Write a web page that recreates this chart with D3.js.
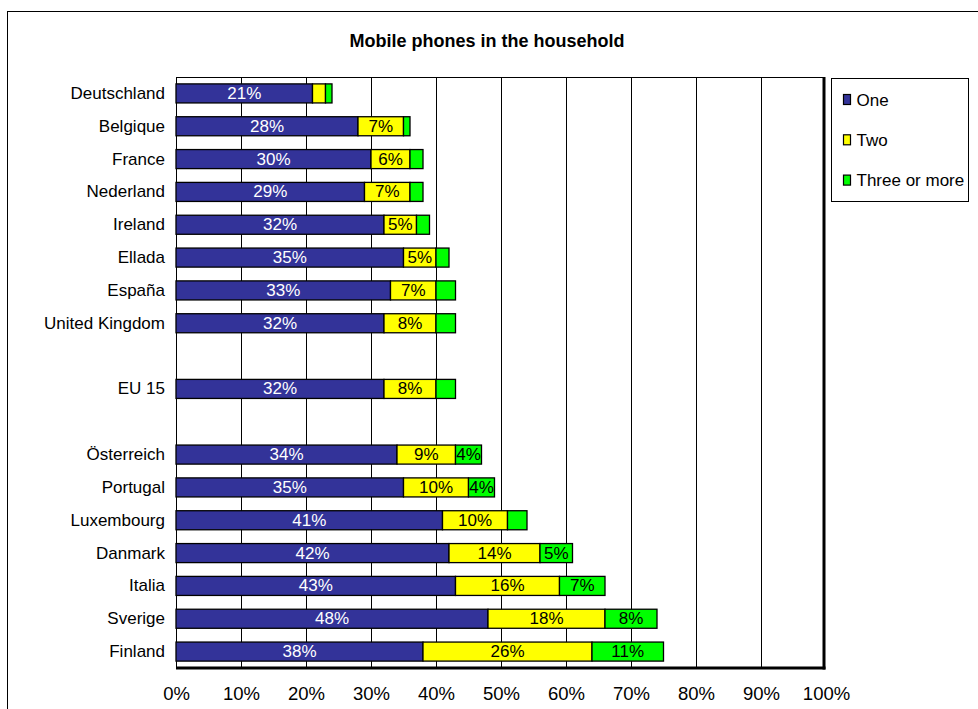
<!DOCTYPE html>
<html>
<head>
<meta charset="utf-8">
<script src="https://cdn.jsdelivr.net/npm/d3@7"></script>
<style>
  html, body { margin: 0; padding: 0; background: #ffffff; }
  svg { display: block; font-family: "Liberation Sans", Arial, sans-serif; }
</style>
</head>
<body>
<svg id="chart" width="978" height="709"></svg>
<script>
// ---- data ----
const title = "Mobile phones in the household";
const categories = ["Deutschland", "Belgique", "France", "Nederland", "Ireland", "Ellada", "España", "United Kingdom", "", "EU 15", "", "Österreich", "Portugal", "Luxembourg", "Danmark", "Italia", "Sverige", "Finland"];
const seriesNames = ["One", "Two", "Three or more"];
const one   = [21, 28, 30, 29, 32, 35, 33, 32, null, 32, null, 34, 35, 41, 42, 43, 48, 38];
const two   = [2, 7, 6, 7, 5, 5, 7, 8, null, 8, null, 9, 10, 10, 14, 16, 18, 26];
const three = [1, 1, 2, 2, 2, 2, 3, 3, null, 3, null, 4, 4, 3, 5, 7, 8, 11];
const tickValues = [0, 10, 20, 30, 40, 50, 60, 70, 80, 90, 100];
const colors = ["#333399", "#FFFF00", "#00FF00"];
const labelColors = ["#ffffff", "#000000", "#000000"];
const labelMin = [0, 5, 4];

// ---- layout ----
const svg = d3.select("#chart");
const plot = { left: 176, right: 826, top: 77, bottom: 668 };

const x = d3.scaleLinear().domain([0, 100]).range([plot.left, plot.right]);
const y = d3.scaleBand().domain(d3.range(categories.length))
  .range([plot.top, plot.bottom]).paddingInner(0.42).paddingOuter(0.21);

// outer chart border
svg.append("rect").attr("x", 7.5).attr("y", 11.5).attr("width", 990).attr("height", 720)
  .attr("fill", "none").attr("stroke", "#000").attr("stroke-width", 1);

// title
svg.append("text").attr("x", 487).attr("y", 47).attr("text-anchor", "middle")
  .attr("font-size", 18).attr("font-weight", "bold")
  .text(title);

// gridlines
svg.append("g").selectAll("line").data(tickValues.slice(1, -1)).join("line")
  .attr("x1", d => Math.round(x(d)) + 0.5).attr("x2", d => Math.round(x(d)) + 0.5)
  .attr("y1", plot.top).attr("y2", plot.bottom)
  .attr("stroke", "#000").attr("stroke-width", 1);

// plot border: top thin, left axis thin, right/bottom thick
svg.append("line").attr("x1", plot.left).attr("x2", plot.right - 2)
  .attr("y1", plot.top + 0.5).attr("y2", plot.top + 0.5).attr("stroke", "#000");
svg.append("line").attr("x1", plot.left + 0.5).attr("x2", plot.left + 0.5)
  .attr("y1", plot.top).attr("y2", plot.bottom).attr("stroke", "#000");

// stacked bars
const stackData = categories.map((c, i) => ({ i, vals: [one[i], two[i], three[i]] }));
const segs = [];
stackData.forEach(d => {
  if (d.vals[0] == null) return;
  let acc = 0;
  d.vals.forEach((v, s) => {
    segs.push({ i: d.i, s, x0: acc, x1: acc + v, v });
    acc += v;
  });
});

const gBars = svg.append("g");
gBars.selectAll("rect").data(segs).join("rect")
  .attr("x", d => x(d.x0))
  .attr("y", d => y(d.i))
  .attr("width", d => x(d.x1) - x(d.x0))
  .attr("height", y.bandwidth())
  .attr("fill", d => colors[d.s])
  .attr("stroke", "#000").attr("stroke-width", 1.3);

// data labels
gBars.selectAll("text").data(segs.filter(d => d.v >= labelMin[d.s])).join("text")
  .attr("x", d => (x(d.x0) + x(d.x1)) / 2)
  .attr("y", d => y(d.i) + y.bandwidth() / 2 + 5.5)
  .attr("text-anchor", "middle")
  .attr("font-size", 17)
  .attr("fill", d => labelColors[d.s])
  .text(d => d.v + "%");

// right and bottom heavy border
svg.append("line").attr("x1", plot.right - 2).attr("x2", plot.right - 2)
  .attr("y1", plot.top).attr("y2", plot.bottom + 1.5).attr("stroke", "#000").attr("stroke-width", 3);
svg.append("line").attr("x1", plot.left).attr("x2", plot.right - 0.5)
  .attr("y1", plot.bottom).attr("y2", plot.bottom).attr("stroke", "#000").attr("stroke-width", 3);

// y axis labels
const yAxis = d3.axisLeft(y).tickSize(0).tickPadding(11).tickFormat(i => categories[i]);
const gy = svg.append("g").attr("transform", `translate(${plot.left},0)`).call(yAxis);
gy.select(".domain").remove();
gy.selectAll("text").attr("font-size", 17)
  .attr("font-family", "'Liberation Sans', Arial, sans-serif").attr("fill", "#000");

// x axis labels
const xAxis = d3.axisBottom(x).tickValues(tickValues).tickSize(0).tickPadding(19)
  .tickFormat(d => d + "%");
const gx = svg.append("g").attr("transform", `translate(0,${plot.bottom})`).call(xAxis);
gx.select(".domain").remove();
gx.selectAll("text").attr("font-size", 18.5)
  .attr("font-family", "'Liberation Sans', Arial, sans-serif").attr("fill", "#000");

// legend
const lg = svg.append("g");
lg.append("rect").attr("x", 831.5).attr("y", 78.5).attr("width", 137).attr("height", 123)
  .attr("fill", "#fff").attr("stroke", "#000");
const items = lg.selectAll("g.item").data(seriesNames).join("g").attr("class", "item")
  .attr("transform", (d, i) => `translate(843,${99.5 + i * 40.3})`);
items.append("rect").attr("x", 0.5).attr("y", -5).attr("width", 7).attr("height", 10)
  .attr("fill", (d, i) => colors[i]).attr("stroke", "#000").attr("stroke-width", 1.2);
items.append("text").attr("x", 13.5).attr("y", 6).attr("font-size", 17)
  .text(d => d);
</script>
</body>
</html>
